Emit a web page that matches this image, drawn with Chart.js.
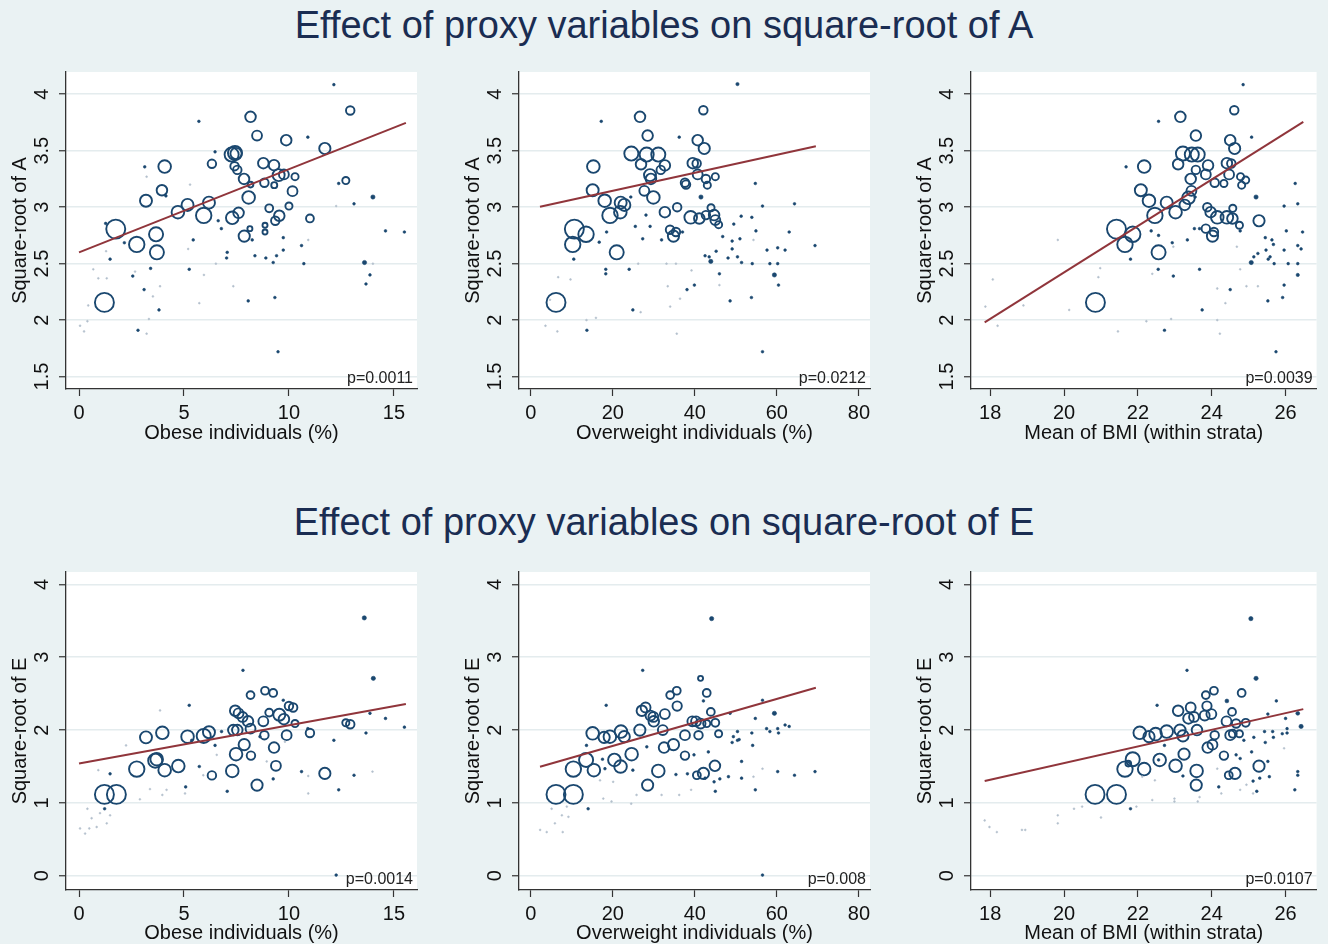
<!DOCTYPE html>
<html lang="en">
<head>
<meta charset="utf-8">
<title>Effect of proxy variables</title>
<script src="https://cdn.jsdelivr.net/npm/chart.js@4.4.1/dist/chart.umd.min.js"></script>
<style>
  html, body { margin: 0; padding: 0; }
  body {
    width: 1328px; height: 944px; position: relative; overflow: hidden;
    background: #eaf2f3; font-family: "Liberation Sans", Arial, sans-serif;
  }
  .main-title {
    position: absolute; left: 0; width: 1328px; text-align: center;
    font-size: 38px; line-height: 38px; color: #1a2d52;
  }
  canvas { position: absolute; }
</style>
</head>
<body>
<div class="main-title" style="top:6px">Effect of proxy variables on square-root of A</div>
<div class="main-title" style="top:503px">Effect of proxy variables on square-root of E</div>

<canvas id="obeseA" width="440" height="390" style="left:0;top:60px"></canvas>
<canvas id="ovwA" width="440" height="390" style="left:453px;top:60px"></canvas>
<canvas id="bmiA" width="423" height="390" style="left:905px;top:60px"></canvas>
<canvas id="obeseE" width="440" height="390" style="left:0;top:560px"></canvas>
<canvas id="ovwE" width="440" height="390" style="left:453px;top:560px"></canvas>
<canvas id="bmiE" width="423" height="390" style="left:905px;top:560px"></canvas>

<script>
// tick labels
const obeseTicks = [0, 5, 10, 15];
const ovwTicks = [0, 20, 40, 60, 80];
const bmiTicks = [18, 20, 22, 24, 26];
const sqrtATicks = [1.5, 2, 2.5, 3, 3.5, 4];
const sqrtETicks = [0, 1, 2, 3, 4];

const pValues = ['p=0.0011', 'p=0.0212', 'p=0.0039', 'p=0.0014', 'p=0.008', 'p=0.0107'];

// points: [x, y, n]  (n = stratum weight, drives marker size)
const obeseA = [
  [1.21,2.157,100],[1.75,2.806,100],[2.75,2.67,66],[3.19,3.057,40],[3.67,2.76,55],[3.71,2.60,55],
  [3.95,3.15,31],[4.08,3.36,44],[4.71,2.956,44],[5.17,3.02,40],[5.94,2.927,66],[6.19,3.04,40],
  [6.33,3.384,20],[7.27,3.466,55],[7.43,3.48,55],[7.48,3.475,35],[7.41,3.363,20],[7.54,3.33,20],
  [7.30,2.906,44],[7.60,2.95,31],[7.87,2.744,35],[7.86,3.25,31],[8.17,3.80,31],[8.08,3.086,44],
  [8.48,3.634,27],[8.78,3.39,31],[8.83,3.216,20],[9.29,3.372,31],[9.51,3.284,40],[9.76,3.29,27],
  [9.06,2.99,17],[9.54,2.924,31],[9.35,2.88,20],[9.87,3.593,31],[10.29,3.27,14],[10.17,3.142,27],
  [10.0,3.01,14],[11.0,2.90,17],[11.71,3.52,35],[12.71,3.236,14],[12.92,3.856,20],[8.86,2.84,7],
  [8.86,2.78,7],[9.3,3.195,10],[14.0,3.09,5],[13.6,2.51,5],[8.17,3.2,9],[8.14,2.81,7],
  [12.14,4.085,2],[5.71,3.76,2],[10.9,3.62,2],[3.13,3.357,2],[6.48,3.49,2],[1.27,2.856,2],
  [1.48,2.54,2],[2.16,2.685,2],[2.56,2.39,2],[3.10,2.27,2],[3.41,2.458,2],[2.81,1.91,2],
  [3.81,2.09,2],[5.44,2.71,2],[5.25,2.45,2],[6.63,2.88,2],[6.78,2.81,2],[7.06,2.60,2],
  [7.03,2.55,2],[8.25,2.71,2],[8.38,2.57,2],[8.06,2.17,2],[8.90,2.55,2],[9.25,2.51,2],
  [9.41,2.57,2],[9.33,2.20,2],[9.48,1.72,2],[9.73,2.73,2],[9.73,2.62,2],[10.6,2.66,2],
  [10.71,2.50,2],[12.37,3.21,2],[13.1,3.03,2],[14.6,2.79,2],[15.5,2.78,2],[13.86,2.40,2],
  [13.67,2.32,2],[4.14,3.10,2],
  [0.05,1.95,1],[0.24,1.90,1],[0.44,2.13,1],[0.4,1.99,1],[0.68,2.45,1],[0.92,2.37,1],
  [1.32,2.37,1],[1.29,2.61,1],[2.67,2.43,1],[3.22,1.88,1],[3.33,2.01,1],[3.52,2.21,1],
  [3.86,2.30,1],[5.73,2.15,1],[5.95,2.40,1],[7.35,2.30,1],[6.52,2.50,1],[5.2,2.63,1],
  [12.25,3.01,1],[10.92,2.71,1],[14.0,2.50,1],[3.22,3.27,1],[5.29,3.2,1]
];

const ovwA = [
  [6.17,2.157,100],[10.64,2.806,100],[10.24,2.67,66],[13.49,2.76,66],[15.27,3.36,44],[15.1,3.15,40],
  [18.03,3.057,44],[19.33,2.927,66],[20.96,2.60,55],[21.85,2.956,44],[21.93,3.04,40],[22.83,3.02,40],
  [24.53,3.475,55],[26.64,3.80,31],[26.89,3.38,31],[27.7,3.145,27],[28.5,3.634,31],[28.27,3.466,55],
  [29.08,3.284,40],[29.3,3.25,31],[29.9,3.086,44],[31.1,3.466,55],[31.7,3.33,20],[32.7,3.37,31],
  [32.7,2.956,31],[35.7,3.0,20],[33.96,2.80,20],[34.8,2.744,35],[35.4,2.78,20],[37.6,3.216,20],
  [37.86,3.2,20],[39.0,2.91,44],[39.5,3.39,31],[40.45,3.387,20],[40.7,3.593,31],[40.7,3.29,27],
  [41.1,2.90,31],[42.08,3.858,20],[42.3,3.52,35],[42.7,3.25,20],[43.05,3.195,14],[43.95,2.995,14],
  [44.7,2.93,31],[45.0,3.27,14],[45.0,2.886,27],[45.8,2.845,14],[42.7,2.93,20],[41.5,3.09,5],
  [43.9,2.52,5],[59.4,2.40,5],
  [50.4,4.09,3],[17.2,3.76,2],[36.2,3.62,2],[54.75,3.21,2],[56.5,3.01,2],[64.3,3.03,2],
  [51.3,2.92,2],[53.9,2.91,2],[49.5,2.85,2],[49.1,2.70,2],[49.1,2.63,2],[54.9,2.79,2],
  [63.0,2.78,2],[69.3,2.66,2],[57.6,2.62,2],[60.2,2.64,2],[62.0,2.62,2],[51.0,2.72,2],
  [48.1,2.55,2],[50.4,2.56,2],[51.4,2.51,2],[54.0,2.50,2],[58.3,2.50,2],[60.2,2.50,2],
  [60.4,2.31,2],[46.0,2.41,2],[48.6,2.17,2],[53.8,2.20,2],[56.5,1.72,2],[39.9,2.31,2],
  [38.1,2.27,2],[42.5,2.57,2],[45.2,2.61,2],[43.5,2.56,2],[46.8,2.74,2],[24.9,2.09,2],
  [24.0,2.45,2],[18.3,2.41,2],[18.3,2.45,2],[10.5,2.54,2],[16.7,2.69,2],[13.7,1.91,2],
  [25.5,2.83,2],[27.3,2.72,2],[29.1,2.83,2],[28.1,2.93,2],[31.9,2.71,2],[24.4,3.09,2],
  [37.0,2.78,2],[18.5,2.78,2],
  [3.6,1.95,1],[6.5,1.90,1],[6.7,2.38,1],[9.7,2.36,1],[13.6,2.0,1],[15.9,2.02,1],
  [4.7,2.18,1],[33.4,2.3,1],[34.0,2.12,1],[35.6,1.88,1],[36.4,2.19,1],[39.2,2.44,1],
  [46,2.31,1],[26.8,2.07,1],[33.1,2.5,1],[35.4,2.5,1],[26.2,2.5,1],[54.3,2.71,1]
];

const bmiA = [
  [20.85,2.157,100],[21.42,2.806,100],[21.65,2.67,66],[21.86,2.76,66],[22.17,3.36,44],[22.08,3.15,40],
  [22.3,3.057,44],[22.46,2.927,66],[22.56,2.60,55],[22.78,3.04,40],[23.02,2.956,44],[23.15,3.80,31],
  [23.09,3.38,31],[23.22,3.475,55],[23.27,3.02,31],[23.37,3.083,44],[23.43,3.25,31],[23.45,3.145,27],
  [23.46,3.466,55],[23.62,3.466,55],[23.57,3.634,31],[23.57,3.33,20],[23.84,3.29,27],[23.9,3.37,31],
  [23.88,3.0,20],[23.97,2.956,31],[23.84,2.81,20],[24.02,2.744,35],[24.06,2.78,20],[24.08,3.216,20],
  [24.15,2.91,44],[24.33,3.21,14],[24.41,2.91,44],[24.41,3.39,31],[24.47,3.29,27],[24.5,3.593,31],
  [24.53,3.387,20],[24.56,2.90,31],[24.57,2.99,14],[24.61,3.858,20],[24.62,3.52,35],[24.75,2.84,14],
  [24.78,3.27,14],[24.81,3.195,14],[24.92,3.24,14],[25.28,2.88,35],[25.2,3.09,5],[25.07,2.51,5],
  [26.33,2.40,3],
  [24.85,4.085,2],[22.56,3.76,2],[25.08,3.62,2],[21.68,3.357,2],[26.26,3.21,2],[26.33,3.03,2],
  [25.96,3.01,2],[26.02,2.79,2],[26.46,2.78,2],[26.33,2.66,2],[26.42,2.63,2],[25.96,2.62,2],
  [25.63,2.71,2],[25.67,2.67,2],[25.45,2.73,2],[25.47,2.62,2],[25.58,2.56,2],[25.69,2.50,2],
  [26.07,2.50,2],[26.33,2.50,2],[25.25,2.59,2],[25.14,2.56,2],[25.53,2.54,2],[25.96,2.31,2],
  [25.92,2.20,2],[25.52,2.17,2],[25.74,1.72,2],[24.5,2.27,2],[23.74,2.09,2],[23.67,2.45,2],
  [22.96,2.39,2],[22.72,1.91,2],[21.8,2.54,2],[22.55,2.45,2],[22.36,2.79,2],[22.56,2.75,2],
  [22.93,2.685,2],[23.34,2.71,2],[23.53,2.81,2],[23.67,2.81,2],[24.77,2.79,2],[23.55,3.09,2],
  [17.87,2.12,1],[18.07,2.36,1],[18.2,1.95,1],[18.9,2.13,1],[19.83,2.71,1],[20.14,2.09,1],
  [20.93,2.38,1],[20.98,2.46,1],[21.46,1.90,1],[22.23,1.99,1],[22.39,2.41,1],[22.9,2.01,1],
  [24.15,2.0,1],[24.22,1.88,1],[24.37,2.15,1],[24.15,2.28,1],[24.77,2.45,1],[24.94,2.30,1],
  [25.25,2.30,1],[22.96,2.65,1],[24.68,2.65,1]
];

const obeseE = [
  [1.21,1.117,100],[1.78,1.117,100],[2.75,1.465,66],[3.19,1.90,40],[3.63,1.58,55],[3.70,1.60,44],
  [3.97,1.963,44],[4.08,1.45,44],[4.73,1.506,44],[5.17,1.91,44],[5.94,1.92,55],[6.19,1.97,40],
  [6.33,1.378,20],[7.3,1.44,44],[7.44,2.265,31],[7.6,2.23,27],[7.79,2.18,27],[7.35,2.0,31],
  [7.54,2.0,31],[7.48,1.67,44],[7.87,1.80,35],[8.05,2.12,31],[8.17,2.48,17],[8.17,2.02,27],
  [8.19,1.65,20],[8.48,1.245,35],[8.78,2.12,27],[8.86,2.54,17],[8.83,1.93,20],[9.06,2.24,17],
  [9.25,2.51,17],[9.29,1.76,31],[9.38,1.51,27],[9.54,2.21,40],[9.76,2.15,31],[9.89,1.93,27],
  [10.0,2.33,20],[10.2,2.31,20],[10.29,2.09,14],[11.0,1.96,20],[11.71,1.405,35],[12.71,2.10,14],
  [12.92,2.08,20],[13.59,3.54,5],[14.02,2.71,5],
  [7.81,2.82,2],[5.25,2.34,2],[13.86,2.23,2],[14.6,2.16,2],[15.5,2.04,2],[13.67,1.96,2],
  [12.14,1.86,2],[10.6,1.43,2],[13.1,1.38,2],[12.37,1.18,2],[9.25,1.33,2],[7.06,1.16,2],
  [5.08,1.22,2],[5.73,1.50,2],[1.48,1.40,2],[1.22,0.92,2],[6.48,1.79,2],[6.79,1.98,2],
  [5.37,1.86,2],[12.25,0.01,2],[9.73,2.41,2],[10.9,2.02,2],[8.62,1.91,2],
  [0.05,0.65,1],[0.29,0.58,1],[0.49,0.65,1],[0.84,0.67,1],[0.6,0.79,1],[1.0,0.86,1],
  [0.4,0.92,1],[1.32,0.72,1],[1.48,0.83,1],[0.92,1.45,1],[2.24,1.79,1],[2.9,1.05,1],
  [3.38,1.19,1],[3.97,1.11,1],[4.17,1.18,1],[5.05,1.13,1],[5.92,1.38,1],[6.56,1.66,1],
  [8.94,1.57,1],[9.81,1.84,1],[10.92,1.13,1],[10.92,1.37,1],[13.98,1.43,1],[3.86,2.27,1]
];

const ovwE = [
  [6.17,1.117,100],[10.4,1.117,100],[10.4,1.465,66],[13.5,1.59,55],[15.1,1.955,44],[15.4,1.45,44],
  [17.9,1.90,35],[19.3,1.91,44],[20.4,1.59,44],[22.0,1.98,44],[22.8,1.91,35],[21.9,1.50,44],
  [24.6,1.67,44],[26.6,2.0,35],[27.1,2.265,31],[28.0,2.31,27],[28.5,1.245,35],[29.2,2.20,27],
  [29.9,2.18,27],[30.0,2.12,31],[31.1,1.44,44],[32.2,2.0,27],[32.7,2.22,27],[32.5,1.76,31],
  [34.8,1.80,35],[34.0,2.48,17],[35.6,2.54,17],[35.7,2.33,24],[37.6,1.93,27],[37.6,1.65,20],
  [39.4,2.12,27],[40.3,2.12,27],[40.9,1.93,20],[40.5,1.38,17],[42.1,1.405,35],[41.4,2.71,7],
  [42.9,2.51,17],[41.4,2.09,27],[42.9,2.09,14],[43.9,2.25,17],[44.9,1.51,31],[45.0,2.10,17],
  [45.8,1.95,14],[44.1,3.53,5],[59.4,2.23,5],
  [27.3,2.82,2],[18.4,2.34,2],[13.6,1.79,2],[14.0,0.92,2],[17.5,1.60,2],[18.1,1.47,2],
  [24.9,1.45,2],[28.3,1.77,2],[35.4,1.39,2],[39.8,1.66,2],[38.2,1.40,2],[42.5,1.34,2],
  [43.3,1.70,2],[44.7,1.29,2],[45.0,1.16,2],[46.1,1.33,2],[48.2,1.36,2],[48.6,2.23,2],
  [49.4,1.91,2],[49.1,1.83,2],[50.4,1.98,2],[50.4,1.86,2],[50.8,1.87,2],[51.4,1.34,2],
  [51.4,1.57,2],[53.9,1.96,2],[54.1,1.79,2],[54.75,2.16,2],[54.75,1.18,2],[56.5,2.41,2],
  [57.5,2.02,2],[58.3,1.98,2],[60.2,2.02,2],[60.4,1.96,2],[62.0,2.07,2],[63.0,2.05,2],
  [60.2,1.43,2],[64.3,1.38,2],[69.3,1.43,2],[56.5,0.01,2],[42.1,2.40,2],
  [2.3,0.63,1],[3.9,0.60,1],[5.1,0.92,1],[5.9,0.72,1],[7.8,0.60,1],[7.6,0.83,1],
  [9.2,0.81,1],[8.8,0.95,1],[17.7,1.06,1],[19.7,1.02,1],[24.5,0.99,1],[25.8,1.11,1],
  [31.9,1.11,1],[36.2,1.11,1],[39.1,1.18,1],[16.9,1.31,1],[20.1,1.29,1],[54.3,1.36,1],
  [56.5,1.47,1]
];

const bmiE = [
  [20.84,1.117,100],[21.42,1.117,100],[21.65,1.465,66],[21.86,1.60,55],[22.05,1.963,44],[22.17,1.465,44],
  [22.3,1.91,35],[22.48,1.945,44],[22.59,1.59,44],[22.78,1.98,44],[23.02,1.51,44],[23.09,2.265,31],
  [23.14,2.0,35],[23.22,1.92,35],[23.25,1.67,35],[23.43,2.31,27],[23.37,2.16,31],[23.52,2.18,27],
  [23.59,1.44,44],[23.58,1.245,35],[23.6,2.0,31],[23.84,2.48,17],[23.87,2.33,24],[23.81,2.20,27],
  [23.99,2.22,27],[23.89,1.76,31],[24.02,1.80,27],[24.06,2.54,17],[24.08,1.93,20],[24.33,1.65,20],
  [24.4,2.12,27],[24.46,1.38,17],[24.63,1.405,35],[24.5,1.93,27],[24.55,2.25,17],[24.57,1.95,17],
  [24.66,2.09,20],[24.75,1.95,14],[24.81,2.51,17],[24.92,2.10,17],[25.28,1.505,35],[25.2,2.71,5],
  [25.06,3.53,5],[26.42,2.05,5],[26.33,2.23,4],[24.41,2.40,4],[21.74,1.54,9],
  [23.33,2.82,2],[22.52,2.34,2],[21.8,0.92,2],[25.75,2.40,2],[25.52,2.22,2],[26.0,2.16,2],
  [26.04,2.02,2],[25.91,1.95,2],[26.04,1.96,2],[25.65,1.98,2],[25.67,1.90,2],[25.43,1.98,2],
  [25.45,1.83,2],[25.14,1.90,2],[25.08,1.70,2],[25.52,1.57,2],[25.56,1.36,2],[25.30,1.34,2],
  [25.12,1.30,2],[25.22,1.16,2],[26.25,1.18,2],[26.33,1.43,2],[26.33,1.38,2],[24.19,1.22,2],
  [24.77,1.61,2],[24.66,1.66,2],[23.22,1.37,2],[22.72,1.79,2],[22.56,1.59,2],[24.87,1.86,2],
  [17.85,0.76,1],[17.98,0.67,1],[18.18,0.60,1],[18.86,0.63,1],[18.95,0.63,1],[19.83,0.83,1],
  [19.83,0.72,1],[20.27,0.92,1],[20.49,0.95,1],[21.0,0.80,1],[21.96,0.95,1],[22.39,1.04,1],
  [22.99,1.02,1],[22.99,1.06,1],[23.62,1.02,1],[22.46,1.31,1],[22.12,1.36,1],[23.67,1.08,1],
  [24.15,1.47,1],[24.26,1.13,1],[24.77,1.18,1],[25.12,1.13,1],[25.96,1.75,1],[24.94,1.25,1]
];

// fitted lines (end points)
const fitObeseA = [[0, 2.60], [15.57, 3.746]];
const fitOvwA = [[2.27, 3.003], [69.5, 3.54]];
const fitBmiA = [[17.85, 1.98], [26.48, 3.755]];
const fitObeseE = [[0, 1.542], [15.57, 2.357]];
const fitOvwE = [[2.27, 1.497], [69.5, 2.581]];
const fitBmiE = [[17.85, 1.30], [26.48, 2.288]];

const navy = '#1a476f';
const faint = '#b3c0cc';
const maroon = '#90353b';
const axisColor = '#333333';
const gridColor = '#e4ecee';
const textColor = '#111111';

Chart.defaults.font.family = '"Liberation Sans", Arial, sans-serif';
Chart.defaults.color = textColor;

// white plot region
const plotBg = {
  id: 'plotBg',
  beforeDraw(chart) {
    const { ctx, chartArea: a } = chart;
    ctx.save();
    ctx.fillStyle = '#ffffff';
    ctx.fillRect(a.left, a.top, a.right - a.left, a.bottom - a.top);
    ctx.restore();
  }
};

// p-value in the lower right corner
const pLabel = {
  id: 'pLabel',
  afterDatasetsDraw(chart, args, opts) {
    const { ctx, chartArea: a } = chart;
    ctx.save();
    ctx.font = '16px "Liberation Sans", Arial, sans-serif';
    ctx.fillStyle = '#222222';
    ctx.textAlign = 'right';
    ctx.textBaseline = 'alphabetic';
    ctx.fillText(opts.text, a.right - 4, a.bottom - 6);
    ctx.restore();
  }
};

function radius(n) {
  return n <= 1 ? 0.9 : 0.95 * Math.sqrt(n);
}

function drawPanel(id, pts, fit, o) {
  const points = pts.map(([x, y, n]) => ({ x: x, y: y, r: radius(n), n: n }));
  const line = fit.map(([x, y]) => ({ x: x, y: y }));
  const tickFmt = v => String(v);

  new Chart(document.getElementById(id), {
    type: 'bubble',
    data: {
      datasets: [
        { type: 'line', data: line, borderColor: maroon, borderWidth: 2,
          pointRadius: 0, fill: false, tension: 0 },
        { type: 'bubble', data: points,
          backgroundColor: c => {
            const n = c.raw ? c.raw.n : 50;
            return n <= 1 ? faint : (n <= 5 ? navy : 'rgba(0,0,0,0)');
          },
          borderColor: c => (c.raw && c.raw.n <= 1) ? faint : navy,
          borderWidth: c => (c.raw && c.raw.n <= 5) ? 0.6 : 1.9 }
      ]
    },
    options: {
      responsive: false,
      animation: false,
      events: [],
      layout: { padding: { left: 0, top: 12, right: o.right, bottom: 0 } },
      plugins: {
        legend: { display: false },
        tooltip: { enabled: false },
        pLabel: { text: o.p }
      },
      scales: {
        x: {
          type: 'linear', min: o.xMin, max: o.xMax,
          afterBuildTicks: s => { s.ticks = o.xTicks.map(v => ({ value: v })); },
          afterFit: s => { s.height = o.xh; s.paddingLeft = 0; s.paddingRight = 0; },
          ticks: { callback: tickFmt, minRotation: 0, maxRotation: 0, autoSkip: false,
                   padding: 5, font: { size: 20 }, color: textColor },
          grid: { drawOnChartArea: false, drawTicks: true, tickLength: 7,
                  tickColor: axisColor, tickWidth: 1.2 },
          border: { color: axisColor, width: 1.3 },
          title: { display: true, text: o.xTitle, font: { size: 20 }, color: textColor,
                   padding: { top: 0, bottom: 5 } }
        },
        y: {
          type: 'linear', min: o.yMin, max: o.yMax,
          afterBuildTicks: s => { s.ticks = o.yTicks.map(v => ({ value: v })); },
          afterFit: s => { s.width = 66; s.paddingTop = 0; s.paddingBottom = 0; },
          ticks: { callback: tickFmt, minRotation: 90, maxRotation: 90, autoSkip: false,
                   crossAlign: 'center', padding: o.yPad, font: { size: 20 }, color: textColor },
          grid: { color: gridColor, lineWidth: 1.5, drawTicks: true, tickLength: 7,
                  tickColor: axisColor, tickWidth: 1.2 },
          border: { color: axisColor, width: 1.3 },
          title: { display: true, text: o.yTitle, font: { size: 20 }, color: textColor,
                   padding: { top: 8, bottom: 0 } }
        }
      }
    },
    plugins: [plotBg, pLabel]
  });
}

const rowA = { yMin: 1.39, yMax: 4.197, yTicks: sqrtATicks, yTitle: 'Square-root of A', yPad: 3, xh: 61 };
const rowE = { yMin: -0.195, yMax: 4.17, yTicks: sqrtETicks, yTitle: 'Square-root of E', yPad: 11, xh: 60 };
const colObese = { xMin: -0.62, xMax: 16.1, xTicks: obeseTicks, xTitle: 'Obese individuals (%)', right: 23 };
const colOvw = { xMin: -2.85, xMax: 82.7, xTicks: ovwTicks, xTitle: 'Overweight individuals (%)', right: 23 };
const colBmi = { xMin: 17.48, xMax: 26.84, xTicks: bmiTicks, xTitle: 'Mean of BMI (within strata)', right: 3 };

drawPanel('obeseA', obeseA, fitObeseA, Object.assign({ p: pValues[0] }, rowA, colObese));
drawPanel('ovwA', ovwA, fitOvwA, Object.assign({ p: pValues[1] }, rowA, colOvw));
drawPanel('bmiA', bmiA, fitBmiA, Object.assign({ p: pValues[2] }, rowA, colBmi));
drawPanel('obeseE', obeseE, fitObeseE, Object.assign({ p: pValues[3] }, rowE, colObese));
drawPanel('ovwE', ovwE, fitOvwE, Object.assign({ p: pValues[4] }, rowE, colOvw));
drawPanel('bmiE', bmiE, fitBmiE, Object.assign({ p: pValues[5] }, rowE, colBmi));
</script>
</body>
</html>
